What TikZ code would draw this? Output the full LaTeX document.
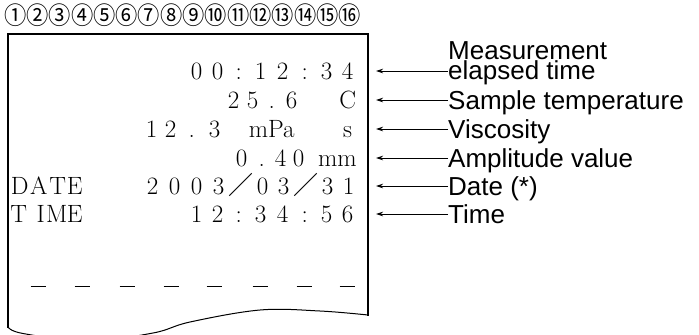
\documentclass[tikz,border=0pt]{standalone}
\usepackage{fontspec}
\newfontfamily\labfont{Liberation Sans}
\newfontfamily\cjkfont{Noto Sans CJK JP}
\usetikzlibrary{arrows.meta}
\newcommand\cc[2]{\rlap{\hskip#1bp\makebox[0pt]{#2}}}
\newcommand\cw[2]{\rlap{\hskip#1bp\llap{#2}}}
\begin{document}
\begin{tikzpicture}[x=1bp,y=-1bp,
  paper/.style={line width=1.8bp,line cap=rect},
  tear/.style={line width=1bp},
  rowtext/.style={anchor=base west,inner sep=0pt,font=\fontsize{25bp}{25bp}\selectfont},
  lbl/.style={anchor=base west,inner sep=0pt,font=\labfont\fontsize{26bp}{19.5bp}\selectfont,align=left},
  pointer/.style={line width=0.8bp,-{Stealth[length=7bp,width=4.5bp]}},
  rule/.style={line width=1bp}]
\useasboundingbox (0,0) rectangle (699,334);
% header
\node[anchor=west,inner sep=0pt,font=\cjkfont\fontsize{24.5bp}{24.5bp}\selectfont] (hdr) at (4,15) {\scalebox{0.91}[1]{①②③④⑤⑥⑦⑧⑨⑩⑪⑫⑬⑭⑮⑯}};
% paper
\coordinate (tl) at (8,34);
\coordinate (tr) at (368,34);
\coordinate (bl) at (8,327);
\coordinate (br) at (368,315);
\draw[paper] (bl) -- (tl) -- (tr) -- (br);
\draw[tear] plot[smooth,tension=0.6] coordinates {(bl) (23,333.5) (88,341) (153,333) (190,322) (260,310) (320,311) (br)};
% rows
\node[rowtext] (r1) at (0,79) {\cc{196}{0}\cc{217}{0}\cc{238}{:}\cc{260}{1}\cc{282}{2}\cc{304}{:}\cc{326}{3}\cc{347}{4}};
\node[rowtext] (r2) at (0,108) {\cc{233}{2}\cc{252}{5}\cc{271}{.}\cc{291}{6}\cc{347}{C}};
\node[rowtext] (r3) at (0,137) {\cc{151}{1}\cc{170}{2}\cc{191}{.}\cc{214}{3}\cc{271}{mPa}\cc{347}{s}};
\node[rowtext] (r4) at (0,166) {\cc{241}{0}\cc{261}{.}\cc{280}{4}\cc{298}{0}\cw{356}{mm}};
\node[rowtext] (r5) at (0,194) {\cc{19}{D}\cc{38}{A}\cc{57}{T}\cc{74}{E}\cc{152}{2}\cc{174}{0}\cc{196}{0}\cc{218}{3}\cc{240}{\cjkfont ／}\cc{262}{0}\cc{283}{3}\cc{305}{\cjkfont ／}\cc{327}{3}\cc{348}{1}};
\node[rowtext] (r6) at (0,222) {\cc{18}{T}\cc{40}{I}\cc{56}{M}\cc{74}{E}\cc{196}{1}\cc{217}{2}\cc{238}{:}\cc{260}{3}\cc{282}{4}\cc{304}{:}\cc{326}{5}\cc{347}{6}};
% dashes
\foreach \x in {38,82,127,171,214,260,304,347}
  \draw[rule] (\x-7.5,286) -- (\x+7.5,286);
% labels
\node[lbl] (l1) at (448,79) {Measurement\\elapsed time};
\node[lbl] (l2) at (448,109) {Sample temperature};
\node[lbl] (l3) at (448,138) {Viscosity};
\node[lbl] (l4) at (448,167) {Amplitude value};
\node[lbl] (l5) at (448,195) {Date (*)};
\node[lbl] (l6) at (448,223) {Time};
% arrow ends
\coordinate (a1) at (376,71);
\coordinate (a2) at (376,100);
\coordinate (a3) at (376,129);
\coordinate (a4) at (376,158);
\coordinate (a5) at (376,186);
\coordinate (a6) at (376,214);
\draw[pointer] (a1 -| l1.west) -- (a1);
\draw[pointer] (a2 -| l2.west) -- (a2);
\draw[pointer] (a3 -| l3.west) -- (a3);
\draw[pointer] (a4 -| l4.west) -- (a4);
\draw[pointer] (a5 -| l5.west) -- (a5);
\draw[pointer] (a6 -| l6.west) -- (a6);
\end{tikzpicture}
\end{document}
